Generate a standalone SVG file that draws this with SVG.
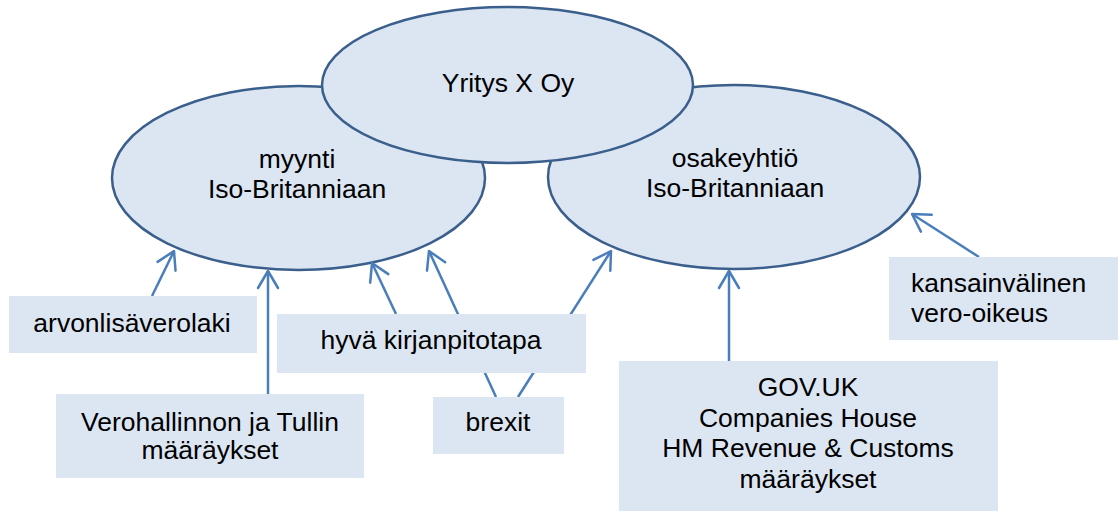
<svg xmlns="http://www.w3.org/2000/svg" width="1118" height="511" viewBox="0 0 1118 511">
<style>
.ell{fill:#DCE6F2;stroke:#3B5F8C;stroke-width:2.5}
.box{fill:#DCE6F2;stroke:none}
.t{font-family:"Liberation Sans",Arial,sans-serif;font-size:26.5px;fill:#000;text-anchor:middle}
.tl{text-anchor:start}
.conn{stroke:#4A7EBB;stroke-width:2.5;fill:none;marker-end:url(#arr)}
</style>
<defs>
<marker id="arr" markerUnits="userSpaceOnUse" markerWidth="40" markerHeight="40" refX="0" refY="0" viewBox="-20 -20 40 40" orient="auto" overflow="visible">
<path d="M-17,-10 L0,0 L-17,10" fill="none" stroke="#4A7EBB" stroke-width="2.5" stroke-linecap="round" stroke-linejoin="round"/>
</marker>
</defs>
<rect width="1118" height="511" fill="#fff"/>
<g id="myynti">
<ellipse class="ell" cx="298.5" cy="178" rx="186.5" ry="92"/>
<text class="t" x="297" y="168">myynti</text>
<text class="t" x="297" y="198">Iso-Britanniaan</text>
</g>
<g id="osakeyhtio">
<ellipse class="ell" cx="734" cy="177" rx="186" ry="92"/>
<text class="t" x="735" y="167">osakeyhtiö</text>
<text class="t" x="735" y="197">Iso-Britanniaan</text>
</g>
<g id="yritys">
<ellipse class="ell" cx="507.5" cy="85" rx="185.5" ry="78"/>
<text class="t" x="508" y="92">Yritys X Oy</text>
</g>
<g id="connectors">
<line class="conn" x1="152" y1="296" x2="174" y2="251"/>
<line class="conn" x1="268" y1="394" x2="268" y2="271"/>
<line class="conn" x1="396" y1="314" x2="372" y2="263"/>
<line class="conn" x1="496" y1="397" x2="429" y2="251"/>
<line class="conn" x1="518" y1="397" x2="611" y2="251"/>
<line class="conn" x1="729" y1="361" x2="729" y2="271"/>
<line class="conn" x1="979" y1="257" x2="912" y2="214"/>
</g>
<g id="arvonlisaverolaki">
<rect class="box" x="9" y="296" width="248" height="57"/>
<text class="t" x="132" y="332">arvonlisäverolaki</text>
</g>
<g id="kirjanpitotapa">
<rect class="box" x="277" y="314" width="309" height="59"/>
<text class="t" x="431" y="349">hyvä kirjanpitotapa</text>
</g>
<g id="verohallinto">
<rect class="box" x="56" y="394" width="308" height="84"/>
<text class="t" x="210" y="431">Verohallinnon ja Tullin</text>
<text class="t" x="210" y="459">määräykset</text>
</g>
<g id="brexit">
<rect class="box" x="433" y="397" width="131" height="57"/>
<text class="t" x="498" y="431">brexit</text>
</g>
<g id="vero-oikeus">
<rect class="box" x="889" y="257" width="229" height="83"/>
<text class="t tl" x="911" y="292">kansainvälinen</text>
<text class="t tl" x="911" y="322">vero-oikeus</text>
</g>
<g id="govuk">
<rect class="box" x="619" y="361" width="379" height="150"/>
<text class="t" x="808" y="396">GOV.UK</text>
<text class="t" x="808" y="427">Companies House</text>
<text class="t" x="808" y="457">HM Revenue &amp; Customs</text>
<text class="t" x="808" y="488">määräykset</text>
</g>
</svg>
